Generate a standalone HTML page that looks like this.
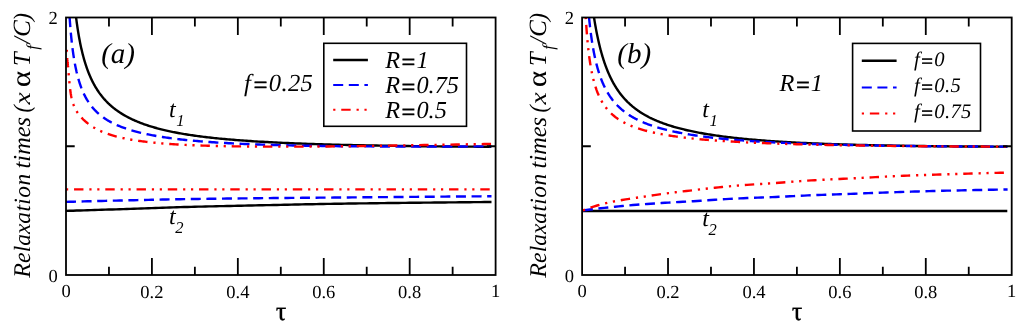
<!DOCTYPE html>
<html><head><meta charset="utf-8"><title>Relaxation times</title>
<style>
html,body{margin:0;padding:0;background:#fff;}
body{width:1024px;height:327px;overflow:hidden;}
svg{display:block;will-change:transform;}
text{font-family:"Liberation Serif",serif;fill:#000;text-rendering:geometricPrecision;}
.tk{font-size:18.5px;}
.it{font-style:italic;}
.yl{font-size:23.3px;}
.sym{font-style:normal;font-size:25px;}
.sub{font-size:16px;}
.sub2{font-size:16.5px;}
.t24{font-size:24px;}
.lab{font-size:29px;}
.tau{font-size:26.5px;stroke:#000;stroke-width:0.3px;}
</style></head><body>
<svg width="1024" height="327" viewBox="0 0 1024 327">
<rect x="0" y="0" width="1024" height="327" fill="#ffffff"/>
<defs>
<clipPath id="ca"><rect x="66" y="17.5" width="429.6" height="257.5"/></clipPath>
<clipPath id="cb"><rect x="582.1" y="17.5" width="429.6" height="257.5"/></clipPath>
</defs>
<g clip-path="url(#ca)">
<path d="M66 210.9 L69.58 210.79 L73.15 210.68 L76.73 210.57 L80.3 210.46 L83.88 210.35 L87.45 210.24 L91.03 210.13 L94.61 210.01 L98.18 209.9 L101.76 209.79 L105.33 209.67 L108.91 209.56 L112.48 209.44 L116.06 209.33 L119.63 209.21 L123.21 209.09 L126.79 208.97 L130.36 208.85 L133.94 208.72 L137.51 208.6 L141.09 208.47 L144.66 208.34 L148.24 208.21 L151.82 208.08 L155.39 207.96 L158.97 207.83 L162.54 207.71 L166.12 207.59 L169.69 207.47 L173.27 207.36 L176.84 207.25 L180.42 207.14 L184 207.05 L187.57 206.95 L191.15 206.85 L194.72 206.76 L198.3 206.67 L201.87 206.58 L205.45 206.5 L209.03 206.41 L212.6 206.33 L216.18 206.25 L219.75 206.17 L223.33 206.09 L226.9 206.01 L230.48 205.93 L234.05 205.85 L237.63 205.78 L241.21 205.7 L244.78 205.62 L248.36 205.55 L251.93 205.47 L255.51 205.4 L259.08 205.32 L262.66 205.24 L266.24 205.17 L269.81 205.09 L273.39 205.01 L276.96 204.93 L280.54 204.85 L284.11 204.78 L287.69 204.7 L291.26 204.62 L294.84 204.55 L298.42 204.47 L301.99 204.4 L305.57 204.32 L309.14 204.25 L312.72 204.18 L316.29 204.11 L319.87 204.05 L323.45 203.98 L327.02 203.92 L330.6 203.85 L334.17 203.79 L337.75 203.74 L341.32 203.68 L344.9 203.63 L348.47 203.57 L352.05 203.52 L355.63 203.47 L359.2 203.42 L362.78 203.37 L366.35 203.33 L369.93 203.28 L373.5 203.24 L377.08 203.19 L380.66 203.15 L384.23 203.1 L387.81 203.06 L391.38 203.02 L394.96 202.98 L398.53 202.94 L402.11 202.9 L405.68 202.86 L409.26 202.82 L412.84 202.78 L416.41 202.74 L419.99 202.7 L423.56 202.66 L427.14 202.62 L430.71 202.58 L434.29 202.55 L437.87 202.51 L441.44 202.47 L445.02 202.44 L448.59 202.4 L452.17 202.36 L455.74 202.33 L459.32 202.29 L462.89 202.26 L466.47 202.22 L470.05 202.19 L473.62 202.16 L477.2 202.13 L480.77 202.09 L484.35 202.06 L487.92 202.03 L491.5 202" fill="none" stroke="#000000" stroke-width="2.4"/>
<path d="M66 201.9 L69.58 201.8 L73.15 201.7 L76.73 201.6 L80.3 201.5 L83.88 201.41 L87.45 201.31 L91.03 201.22 L94.61 201.12 L98.18 201.03 L101.76 200.94 L105.33 200.85 L108.91 200.76 L112.48 200.68 L116.06 200.59 L119.63 200.51 L123.21 200.43 L126.79 200.34 L130.36 200.26 L133.94 200.18 L137.51 200.09 L141.09 200.01 L144.66 199.93 L148.24 199.85 L151.82 199.78 L155.39 199.7 L158.97 199.63 L162.54 199.55 L166.12 199.48 L169.69 199.41 L173.27 199.35 L176.84 199.29 L180.42 199.23 L184 199.17 L187.57 199.11 L191.15 199.06 L194.72 199 L198.3 198.95 L201.87 198.9 L205.45 198.85 L209.03 198.8 L212.6 198.75 L216.18 198.71 L219.75 198.66 L223.33 198.62 L226.9 198.57 L230.48 198.53 L234.05 198.49 L237.63 198.44 L241.21 198.4 L244.78 198.36 L248.36 198.32 L251.93 198.29 L255.51 198.25 L259.08 198.21 L262.66 198.17 L266.24 198.14 L269.81 198.1 L273.39 198.07 L276.96 198.03 L280.54 198 L284.11 197.97 L287.69 197.94 L291.26 197.91 L294.84 197.88 L298.42 197.85 L301.99 197.82 L305.57 197.79 L309.14 197.76 L312.72 197.73 L316.29 197.7 L319.87 197.67 L323.45 197.64 L327.02 197.61 L330.6 197.58 L334.17 197.55 L337.75 197.52 L341.32 197.49 L344.9 197.46 L348.47 197.43 L352.05 197.39 L355.63 197.36 L359.2 197.33 L362.78 197.3 L366.35 197.27 L369.93 197.23 L373.5 197.2 L377.08 197.17 L380.66 197.14 L384.23 197.11 L387.81 197.08 L391.38 197.04 L394.96 197.01 L398.53 196.98 L402.11 196.95 L405.68 196.92 L409.26 196.89 L412.84 196.86 L416.41 196.83 L419.99 196.8 L423.56 196.77 L427.14 196.74 L430.71 196.71 L434.29 196.68 L437.87 196.66 L441.44 196.63 L445.02 196.6 L448.59 196.57 L452.17 196.54 L455.74 196.52 L459.32 196.49 L462.89 196.46 L466.47 196.43 L470.05 196.41 L473.62 196.38 L477.2 196.35 L480.77 196.33 L484.35 196.3 L487.92 196.28 L491.5 196.25" fill="none" stroke="#0000ff" stroke-width="2.4" stroke-dasharray="10 5.6"/>
<path d="M66 189.4 L491.5 189.4" fill="none" stroke="#ff0000" stroke-width="2.4" stroke-dasharray="2.2 5.85 9.4 5.9 2.2 5.7"/>
<path d="M71.63 -38.13 L71.69 -36.92 L71.75 -35.72 L71.81 -34.53 L71.87 -33.34 L71.94 -32.16 L72 -30.99 L72.07 -29.82 L72.13 -28.66 L72.2 -27.51 L72.27 -26.37 L72.34 -25.23 L72.41 -24.1 L72.48 -22.98 L72.55 -21.86 L72.62 -20.75 L72.69 -19.65 L72.76 -18.56 L72.84 -17.47 L72.91 -16.38 L72.99 -15.31 L73.06 -14.24 L73.14 -13.18 L73.22 -12.12 L73.3 -11.07 L73.38 -10.03 L73.46 -8.99 L73.54 -7.96 L73.62 -6.94 L73.7 -5.92 L73.79 -4.91 L73.87 -3.9 L73.96 -2.9 L74.04 -1.91 L74.13 -0.92 L74.22 0.06 L74.31 1.04 L74.4 2 L74.49 2.97 L74.59 3.92 L74.68 4.88 L74.77 5.82 L74.87 6.76 L74.97 7.69 L75.06 8.62 L75.16 9.55 L75.26 10.46 L75.36 11.37 L75.47 12.28 L75.57 13.18 L75.67 14.07 L75.78 14.96 L75.88 15.85 L75.99 16.73 L76.1 17.6 L76.21 18.47 L76.32 19.33 L76.44 20.19 L76.55 21.04 L76.66 21.9 L76.78 22.75 L76.9 23.59 L77.02 24.43 L77.14 25.27 L77.26 26.11 L77.38 26.94 L77.5 27.77 L77.63 28.6 L77.76 29.42 L77.89 30.24 L78.01 31.05 L78.15 31.87 L78.28 32.67 L78.41 33.48 L78.55 34.28 L78.68 35.08 L78.82 35.88 L78.96 36.67 L79.1 37.46 L79.25 38.24 L79.39 39.02 L79.54 39.8 L79.68 40.58 L79.83 41.35 L79.98 42.12 L80.14 42.88 L80.29 43.65 L80.45 44.4 L80.6 45.16 L80.76 45.91 L80.92 46.66 L81.09 47.4 L81.25 48.14 L81.42 48.88 L81.59 49.62 L81.76 50.35 L81.93 51.07 L82.1 51.8 L82.28 52.52 L82.45 53.24 L82.63 53.95 L82.81 54.66 L83 55.37 L83.18 56.07 L83.37 56.78 L83.56 57.47 L83.75 58.17 L83.94 58.86 L84.14 59.54 L84.34 60.23 L84.54 60.91 L84.74 61.59 L84.94 62.26 L85.15 62.93 L85.36 63.6 L85.57 64.26 L85.78 64.92 L86 65.58 L86.22 66.23 L86.44 66.88 L86.66 67.53 L86.88 68.18 L87.11 68.82 L87.34 69.45 L87.58 70.09 L87.81 70.72 L88.05 71.35 L88.29 71.97 L88.53 72.59 L88.78 73.21 L89.03 73.82 L89.28 74.44 L89.53 75.04 L89.79 75.65 L90.05 76.25 L90.31 76.85 L90.57 77.44 L90.84 78.04 L91.11 78.62 L91.39 79.21 L91.66 79.79 L91.94 80.37 L92.22 80.95 L92.51 81.52 L92.8 82.09 L93.09 82.66 L93.39 83.22 L93.69 83.78 L93.99 84.34 L94.29 84.89 L94.6 85.44 L94.91 85.99 L95.23 86.53 L95.55 87.08 L95.87 87.61 L96.19 88.15 L96.52 88.68 L96.86 89.21 L97.19 89.74 L97.53 90.26 L97.88 90.78 L98.22 91.3 L98.57 91.81 L98.93 92.32 L99.29 92.83 L99.65 93.34 L100.02 93.84 L100.39 94.34 L100.76 94.83 L101.14 95.33 L101.52 95.82 L101.91 96.3 L102.3 96.79 L102.7 97.27 L103.1 97.75 L103.5 98.22 L103.91 98.7 L104.33 99.17 L104.74 99.63 L105.17 100.1 L105.59 100.56 L106.02 101.02 L106.46 101.47 L106.9 101.93 L107.35 102.38 L107.8 102.82 L108.25 103.27 L108.71 103.71 L109.18 104.15 L109.65 104.58 L110.13 105.02 L110.61 105.45 L111.09 105.88 L111.58 106.3 L112.08 106.72 L112.58 107.14 L113.09 107.56 L113.61 107.97 L114.12 108.39 L114.65 108.79 L115.18 109.2 L115.71 109.6 L116.26 110.01 L116.8 110.4 L117.36 110.8 L117.92 111.19 L118.48 111.58 L119.06 111.97 L119.63 112.36 L120.22 112.74 L120.81 113.12 L121.41 113.5 L122.01 113.87 L122.62 114.25 L123.24 114.62 L123.86 114.99 L124.49 115.35 L125.13 115.71 L125.78 116.07 L126.43 116.43 L127.09 116.79 L127.75 117.14 L128.42 117.49 L129.11 117.84 L129.79 118.19 L130.49 118.53 L131.19 118.87 L131.9 119.21 L132.62 119.55 L133.35 119.88 L134.08 120.21 L134.82 120.54 L135.57 120.87 L136.33 121.19 L137.1 121.52 L137.87 121.84 L138.66 122.15 L139.45 122.47 L140.25 122.78 L141.06 123.09 L141.88 123.4 L142.7 123.71 L143.54 124.01 L144.38 124.32 L145.24 124.62 L146.1 124.91 L146.98 125.21 L147.86 125.5 L148.75 125.79 L149.65 126.08 L150.56 126.37 L151.49 126.65 L152.42 126.93 L153.36 127.21 L154.31 127.49 L155.27 127.76 L156.25 128.03 L157.23 128.3 L158.23 128.57 L159.23 128.84 L160.25 129.1 L161.27 129.36 L162.31 129.62 L163.36 129.87 L164.42 130.12 L165.5 130.38 L166.58 130.62 L167.68 130.87 L168.79 131.11 L169.91 131.36 L171.04 131.59 L172.18 131.83 L173.34 132.07 L174.51 132.3 L175.69 132.53 L176.89 132.76 L178.1 132.98 L179.32 133.2 L180.55 133.43 L181.8 133.64 L183.07 133.86 L184.34 134.07 L185.63 134.29 L186.94 134.5 L188.25 134.7 L189.59 134.91 L190.93 135.11 L192.3 135.31 L193.67 135.51 L195.06 135.71 L196.47 135.9 L197.89 136.1 L199.33 136.29 L200.78 136.47 L202.25 136.66 L203.74 136.84 L205.24 137.03 L206.76 137.21 L208.29 137.38 L209.84 137.56 L211.41 137.73 L212.99 137.9 L214.6 138.07 L216.22 138.24 L217.85 138.41 L219.51 138.57 L221.18 138.73 L222.87 138.89 L224.58 139.05 L226.31 139.21 L228.06 139.36 L229.83 139.51 L231.61 139.66 L233.42 139.81 L235.24 139.96 L237.09 140.1 L238.95 140.25 L240.84 140.39 L242.74 140.53 L244.67 140.66 L246.62 140.8 L248.58 140.93 L250.57 141.07 L252.59 141.2 L254.62 141.33 L256.68 141.45 L258.75 141.58 L260.86 141.7 L262.98 141.82 L265.13 141.94 L267.3 142.06 L269.49 142.18 L271.71 142.29 L273.95 142.41 L276.22 142.52 L278.51 142.63 L280.83 142.74 L283.17 142.85 L285.53 142.95 L287.93 143.06 L290.35 143.16 L292.79 143.26 L295.26 143.36 L297.76 143.46 L300.29 143.56 L302.84 143.65 L305.42 143.74 L308.03 143.84 L310.67 143.93 L313.34 144.02 L316.03 144.1 L318.76 144.19 L321.51 144.27 L324.3 144.36 L327.12 144.44 L329.96 144.52 L332.84 144.6 L335.75 144.68 L338.69 144.75 L341.66 144.83 L344.66 144.9 L347.7 144.98 L350.77 145.05 L353.88 145.12 L357.01 145.18 L360.19 145.25 L363.39 145.32 L366.63 145.38 L369.91 145.44 L373.22 145.51 L376.57 145.57 L379.96 145.63 L383.38 145.68 L386.84 145.74 L390.34 145.8 L393.87 145.85 L397.45 145.9 L401.06 145.95 L404.71 146 L408.4 146.05 L412.13 146.1 L415.91 146.15 L419.72 146.19 L423.58 146.24 L427.47 146.28 L431.41 146.32 L435.4 146.36 L439.42 146.4 L443.49 146.44 L447.61 146.48 L451.77 146.51 L455.97 146.55 L460.22 146.58 L464.52 146.61 L468.86 146.64 L473.26 146.67 L477.69 146.7 L482.18 146.73 L486.72 146.75 L491.3 146.78" fill="none" stroke="#000000" stroke-width="2.4"/>
<path d="M68.06 -16.52 L68.09 -15.63 L68.11 -14.74 L68.14 -13.86 L68.17 -12.98 L68.2 -12.11 L68.23 -11.24 L68.26 -10.38 L68.29 -9.52 L68.32 -8.66 L68.35 -7.81 L68.38 -6.96 L68.42 -6.12 L68.45 -5.28 L68.48 -4.45 L68.51 -3.62 L68.55 -2.79 L68.58 -1.97 L68.62 -1.15 L68.65 -0.34 L68.69 0.47 L68.72 1.27 L68.76 2.07 L68.8 2.87 L68.84 3.66 L68.87 4.45 L68.91 5.24 L68.95 6.02 L68.99 6.79 L69.03 7.57 L69.07 8.34 L69.11 9.1 L69.16 9.86 L69.2 10.62 L69.24 11.37 L69.29 12.12 L69.33 12.87 L69.37 13.61 L69.42 14.35 L69.47 15.08 L69.51 15.81 L69.56 16.54 L69.61 17.26 L69.66 17.98 L69.7 18.7 L69.75 19.41 L69.81 20.12 L69.86 20.83 L69.91 21.54 L69.96 22.26 L70.01 22.97 L70.07 23.68 L70.12 24.39 L70.18 25.1 L70.23 25.81 L70.29 26.52 L70.35 27.24 L70.41 27.95 L70.47 28.66 L70.53 29.37 L70.59 30.08 L70.65 30.78 L70.71 31.49 L70.78 32.2 L70.84 32.91 L70.9 33.61 L70.97 34.32 L71.04 35.03 L71.11 35.73 L71.17 36.43 L71.24 37.14 L71.31 37.84 L71.39 38.54 L71.46 39.24 L71.53 39.94 L71.61 40.63 L71.68 41.33 L71.76 42.03 L71.84 42.72 L71.91 43.41 L71.99 44.1 L72.07 44.79 L72.16 45.48 L72.24 46.17 L72.32 46.86 L72.41 47.54 L72.49 48.23 L72.58 48.91 L72.67 49.59 L72.76 50.27 L72.85 50.94 L72.94 51.62 L73.04 52.29 L73.13 52.96 L73.23 53.63 L73.32 54.3 L73.42 54.97 L73.52 55.63 L73.62 56.3 L73.73 56.96 L73.83 57.62 L73.93 58.27 L74.04 58.93 L74.15 59.58 L74.26 60.23 L74.37 60.88 L74.48 61.53 L74.6 62.17 L74.71 62.82 L74.83 63.46 L74.95 64.1 L75.07 64.73 L75.19 65.37 L75.31 66 L75.44 66.63 L75.57 67.25 L75.7 67.88 L75.83 68.5 L75.96 69.12 L76.09 69.74 L76.23 70.36 L76.37 70.97 L76.5 71.58 L76.65 72.19 L76.79 72.8 L76.93 73.4 L77.08 74 L77.23 74.6 L77.38 75.2 L77.53 75.79 L77.69 76.38 L77.85 76.97 L78.01 77.55 L78.17 78.14 L78.33 78.72 L78.5 79.3 L78.67 79.87 L78.84 80.45 L79.01 81.02 L79.18 81.59 L79.36 82.15 L79.54 82.71 L79.72 83.27 L79.91 83.83 L80.09 84.39 L80.28 84.94 L80.48 85.49 L80.67 86.03 L80.87 86.58 L81.07 87.12 L81.27 87.66 L81.48 88.19 L81.68 88.73 L81.89 89.26 L82.11 89.78 L82.33 90.31 L82.54 90.83 L82.77 91.35 L82.99 91.87 L83.22 92.38 L83.45 92.89 L83.69 93.4 L83.93 93.91 L84.17 94.41 L84.41 94.91 L84.66 95.41 L84.91 95.9 L85.16 96.39 L85.42 96.88 L85.68 97.37 L85.95 97.85 L86.22 98.33 L86.49 98.81 L86.76 99.28 L87.04 99.76 L87.33 100.23 L87.61 100.69 L87.9 101.16 L88.2 101.62 L88.5 102.08 L88.8 102.53 L89.11 102.99 L89.42 103.44 L89.73 103.88 L90.05 104.33 L90.37 104.77 L90.7 105.21 L91.03 105.65 L91.37 106.08 L91.71 106.51 L92.06 106.94 L92.41 107.36 L92.76 107.79 L93.12 108.21 L93.49 108.63 L93.86 109.04 L94.23 109.45 L94.61 109.86 L95 110.27 L95.39 110.67 L95.78 111.07 L96.18 111.47 L96.59 111.87 L97 112.26 L97.42 112.65 L97.84 113.04 L98.27 113.43 L98.7 113.81 L99.14 114.19 L99.59 114.57 L100.04 114.94 L100.5 115.31 L100.96 115.68 L101.43 116.05 L101.91 116.42 L102.39 116.78 L102.88 117.14 L103.38 117.5 L103.88 117.85 L104.39 118.2 L104.91 118.55 L105.43 118.9 L105.96 119.24 L106.5 119.59 L107.04 119.93 L107.6 120.26 L108.15 120.6 L108.72 120.93 L109.3 121.26 L109.88 121.59 L110.47 121.91 L111.07 122.24 L111.67 122.56 L112.29 122.87 L112.91 123.19 L113.54 123.5 L114.18 123.81 L114.83 124.12 L115.49 124.43 L116.15 124.73 L116.83 125.03 L117.51 125.33 L118.2 125.63 L118.9 125.92 L119.62 126.22 L120.34 126.51 L121.07 126.8 L121.81 127.08 L122.56 127.36 L123.32 127.65 L124.09 127.93 L124.87 128.2 L125.66 128.48 L126.47 128.75 L127.28 129.02 L128.1 129.29 L128.94 129.55 L129.79 129.82 L130.64 130.08 L131.51 130.34 L132.4 130.6 L133.29 130.85 L134.19 131.11 L135.11 131.36 L136.04 131.61 L136.98 131.86 L137.94 132.1 L138.9 132.35 L139.89 132.59 L140.88 132.83 L141.89 133.06 L142.91 133.3 L143.94 133.53 L144.99 133.77 L146.05 134 L147.13 134.22 L148.22 134.45 L149.33 134.67 L150.45 134.9 L151.58 135.12 L152.73 135.34 L153.9 135.55 L155.08 135.77 L156.28 135.98 L157.5 136.19 L158.73 136.4 L159.97 136.6 L161.24 136.81 L162.52 137.01 L163.82 137.21 L165.13 137.41 L166.47 137.6 L167.82 137.8 L169.19 137.99 L170.57 138.18 L171.98 138.36 L173.41 138.55 L174.85 138.73 L176.32 138.91 L177.8 139.09 L179.3 139.26 L180.83 139.44 L182.37 139.61 L183.94 139.78 L185.52 139.94 L187.13 140.11 L188.76 140.27 L190.41 140.43 L192.08 140.59 L193.78 140.75 L195.5 140.9 L197.24 141.05 L199.01 141.2 L200.8 141.35 L202.61 141.49 L204.45 141.64 L206.31 141.78 L208.2 141.92 L210.11 142.05 L212.05 142.19 L214.01 142.32 L216 142.45 L218.02 142.58 L220.06 142.7 L222.14 142.82 L224.24 142.95 L226.36 143.07 L228.52 143.18 L230.71 143.3 L232.92 143.41 L235.17 143.52 L237.44 143.63 L239.75 143.74 L242.09 143.84 L244.46 143.94 L246.86 144.04 L249.29 144.14 L251.75 144.24 L254.25 144.33 L256.78 144.43 L259.35 144.52 L261.95 144.61 L264.59 144.69 L267.26 144.78 L269.96 144.86 L272.71 144.94 L275.49 145.02 L278.31 145.09 L281.16 145.17 L284.06 145.24 L286.99 145.31 L289.96 145.38 L292.97 145.45 L296.03 145.51 L299.12 145.57 L302.26 145.64 L305.43 145.69 L308.66 145.75 L311.92 145.81 L315.23 145.86 L318.58 145.91 L321.98 145.96 L325.42 146.01 L328.91 146.05 L332.45 146.1 L336.03 146.14 L339.66 146.18 L343.34 146.21 L347.07 146.25 L350.85 146.28 L354.68 146.31 L358.57 146.34 L362.5 146.37 L366.49 146.4 L370.53 146.42 L374.63 146.44 L378.78 146.46 L382.99 146.48 L387.25 146.49 L391.57 146.51 L395.95 146.52 L400.39 146.53 L404.89 146.53 L409.45 146.54 L414.06 146.54 L418.75 146.54 L423.49 146.54 L428.3 146.53 L433.17 146.53 L438.11 146.52 L443.12 146.51 L448.19 146.49 L453.33 146.48 L458.54 146.46 L463.82 146.44 L469.17 146.42 L474.59 146.39 L480.09 146.37 L485.66 146.34 L491.3 146.3" fill="none" stroke="#0000ff" stroke-width="2.4" stroke-dasharray="10 5.6" stroke-dashoffset="-2.5"/>
<path d="M66.45 49.5 L66.46 49.29 L66.47 49.1 L66.47 48.93 L66.48 48.77 L66.49 48.64 L66.5 48.53 L66.51 48.44 L66.52 48.36 L66.53 48.3 L66.53 48.26 L66.54 48.24 L66.55 48.23 L66.56 48.24 L66.57 48.26 L66.58 48.3 L66.59 48.36 L66.6 48.43 L66.61 48.51 L66.62 48.61 L66.63 48.72 L66.65 48.84 L66.66 48.98 L66.67 49.12 L66.68 49.28 L66.69 49.45 L66.7 49.63 L66.72 49.82 L66.73 50.02 L66.74 50.23 L66.75 50.45 L66.77 50.68 L66.78 50.91 L66.79 51.15 L66.81 51.4 L66.82 51.65 L66.83 51.91 L66.85 52.18 L66.86 52.45 L66.88 52.73 L66.89 53.01 L66.91 53.29 L66.93 53.58 L66.94 53.87 L66.96 54.16 L66.97 54.46 L66.99 54.76 L67.01 55.06 L67.03 55.36 L67.04 55.66 L67.06 55.96 L67.08 56.26 L67.1 56.56 L67.12 56.86 L67.14 57.16 L67.16 57.45 L67.18 57.75 L67.2 58.04 L67.22 58.33 L67.24 58.61 L67.26 58.9 L67.28 59.17 L67.3 59.45 L67.33 59.73 L67.35 60 L67.37 60.27 L67.4 60.54 L67.42 60.81 L67.45 61.08 L67.47 61.35 L67.5 61.62 L67.52 61.89 L67.55 62.16 L67.58 62.44 L67.6 62.72 L67.63 63 L67.66 63.28 L67.69 63.57 L67.72 63.86 L67.75 64.16 L67.78 64.46 L67.81 64.77 L67.84 65.09 L67.87 65.41 L67.9 65.73 L67.94 66.06 L67.97 66.4 L68 66.75 L68.04 67.11 L68.07 67.47 L68.11 67.84 L68.15 68.23 L68.18 68.62 L68.22 69.01 L68.26 69.42 L68.3 69.84 L68.34 70.27 L68.38 70.71 L68.42 71.16 L68.46 71.62 L68.51 72.1 L68.55 72.58 L68.59 73.08 L68.64 73.58 L68.68 74.1 L68.73 74.63 L68.78 75.17 L68.83 75.73 L68.87 76.29 L68.92 76.87 L68.98 77.45 L69.03 78.04 L69.08 78.64 L69.13 79.24 L69.19 79.85 L69.24 80.46 L69.3 81.07 L69.36 81.69 L69.41 82.31 L69.47 82.93 L69.53 83.54 L69.59 84.16 L69.66 84.78 L69.72 85.39 L69.78 86 L69.85 86.61 L69.92 87.21 L69.98 87.81 L70.05 88.4 L70.12 88.99 L70.19 89.57 L70.27 90.14 L70.34 90.71 L70.42 91.27 L70.49 91.81 L70.57 92.35 L70.65 92.88 L70.73 93.4 L70.81 93.92 L70.9 94.42 L70.98 94.91 L71.07 95.4 L71.15 95.88 L71.24 96.34 L71.33 96.81 L71.43 97.26 L71.52 97.71 L71.62 98.15 L71.71 98.58 L71.81 99.01 L71.91 99.43 L72.02 99.84 L72.12 100.25 L72.23 100.65 L72.33 101.05 L72.44 101.44 L72.55 101.83 L72.67 102.21 L72.78 102.59 L72.9 102.96 L73.02 103.33 L73.14 103.69 L73.27 104.05 L73.39 104.41 L73.52 104.76 L73.65 105.1 L73.78 105.45 L73.92 105.79 L74.05 106.13 L74.19 106.46 L74.34 106.79 L74.48 107.12 L74.63 107.44 L74.78 107.77 L74.93 108.09 L75.08 108.4 L75.24 108.72 L75.4 109.03 L75.56 109.34 L75.73 109.65 L75.9 109.96 L76.07 110.26 L76.24 110.57 L76.42 110.87 L76.6 111.17 L76.79 111.47 L76.97 111.77 L77.16 112.06 L77.36 112.36 L77.55 112.65 L77.75 112.95 L77.96 113.24 L78.16 113.53 L78.37 113.82 L78.59 114.11 L78.81 114.4 L79.03 114.69 L79.25 114.98 L79.48 115.27 L79.72 115.56 L79.95 115.85 L80.2 116.14 L80.44 116.42 L80.69 116.71 L80.95 117 L81.2 117.29 L81.47 117.58 L81.74 117.86 L82.01 118.15 L82.29 118.44 L82.57 118.73 L82.85 119.02 L83.15 119.31 L83.44 119.6 L83.75 119.89 L84.05 120.18 L84.37 120.47 L84.68 120.76 L85.01 121.05 L85.34 121.35 L85.67 121.64 L86.01 121.93 L86.36 122.23 L86.71 122.52 L87.07 122.82 L87.43 123.11 L87.81 123.41 L88.18 123.7 L88.57 123.99 L88.96 124.29 L89.36 124.58 L89.76 124.87 L90.17 125.17 L90.59 125.46 L91.02 125.75 L91.45 126.04 L91.89 126.33 L92.34 126.62 L92.8 126.91 L93.26 127.2 L93.73 127.48 L94.21 127.77 L94.7 128.05 L95.2 128.34 L95.7 128.62 L96.22 128.9 L96.74 129.18 L97.27 129.46 L97.82 129.73 L98.37 130.01 L98.93 130.28 L99.5 130.55 L100.08 130.82 L100.67 131.09 L101.27 131.36 L101.88 131.63 L102.5 131.89 L103.13 132.15 L103.78 132.41 L104.43 132.67 L105.1 132.93 L105.77 133.18 L106.46 133.44 L107.16 133.69 L107.88 133.94 L108.6 134.19 L109.34 134.43 L110.09 134.67 L110.85 134.92 L111.63 135.16 L112.42 135.39 L113.22 135.63 L114.04 135.86 L114.87 136.09 L115.72 136.32 L116.58 136.55 L117.46 136.78 L118.35 137 L119.25 137.22 L120.18 137.44 L121.12 137.66 L122.07 137.87 L123.04 138.08 L124.03 138.29 L125.03 138.5 L126.06 138.71 L127.1 138.91 L128.15 139.11 L129.23 139.31 L130.33 139.51 L131.44 139.71 L132.57 139.9 L133.73 140.09 L134.9 140.28 L136.09 140.46 L137.31 140.64 L138.54 140.82 L139.8 141 L141.08 141.18 L142.38 141.35 L143.7 141.52 L145.05 141.68 L146.41 141.85 L147.81 142.01 L149.22 142.17 L150.67 142.33 L152.13 142.48 L153.62 142.63 L155.14 142.78 L156.69 142.93 L158.26 143.07 L159.85 143.21 L161.48 143.35 L163.13 143.48 L164.82 143.61 L166.53 143.74 L168.27 143.87 L170.04 143.99 L171.84 144.11 L173.67 144.23 L175.54 144.35 L177.44 144.46 L179.37 144.57 L181.33 144.68 L183.33 144.78 L185.36 144.88 L187.43 144.98 L189.53 145.08 L191.67 145.17 L193.85 145.26 L196.06 145.35 L198.31 145.43 L200.6 145.52 L202.93 145.6 L205.31 145.67 L207.72 145.75 L210.17 145.82 L212.67 145.89 L215.21 145.95 L217.8 146.01 L220.42 146.07 L223.1 146.13 L225.82 146.19 L228.59 146.24 L231.4 146.29 L234.27 146.33 L237.18 146.37 L240.15 146.41 L243.16 146.45 L246.23 146.49 L249.35 146.52 L252.53 146.54 L255.76 146.57 L259.05 146.59 L262.39 146.61 L265.79 146.63 L269.25 146.64 L272.77 146.65 L276.35 146.66 L280 146.66 L283.7 146.66 L287.47 146.66 L291.31 146.65 L295.21 146.64 L299.18 146.63 L303.22 146.61 L307.33 146.59 L311.51 146.56 L315.76 146.54 L320.08 146.51 L324.49 146.47 L328.96 146.43 L333.52 146.39 L338.15 146.34 L342.86 146.29 L347.66 146.23 L352.54 146.17 L357.5 146.11 L362.55 146.05 L367.68 145.97 L372.91 145.9 L378.22 145.82 L383.63 145.74 L389.13 145.66 L394.73 145.57 L400.42 145.48 L406.22 145.38 L412.11 145.28 L418.1 145.18 L424.2 145.07 L430.4 144.96 L436.72 144.85 L443.14 144.74 L449.67 144.62 L456.31 144.5 L463.07 144.39 L469.95 144.28 L476.95 144.16 L484.06 144.06 L491.3 143.95" fill="none" stroke="#ff0000" stroke-width="2.4" stroke-dasharray="2.2 5.85 9.4 5.9 2.2 5.7" stroke-dashoffset="-3"/>
</g>
<g clip-path="url(#cb)">
<path d="M582.1 211 L1007.3 211" fill="none" stroke="#000000" stroke-width="2.4"/>
<path d="M582.9 210.4 L586.47 209.95 L590.04 209.52 L593.61 209.09 L597.18 208.67 L600.74 208.27 L604.31 207.87 L607.88 207.48 L611.45 207.11 L615.02 206.75 L618.59 206.39 L622.16 206.04 L625.73 205.7 L629.3 205.38 L632.86 205.06 L636.43 204.76 L640 204.48 L643.57 204.22 L647.14 203.96 L650.71 203.72 L654.28 203.48 L657.85 203.25 L661.42 203.03 L664.98 202.81 L668.55 202.6 L672.12 202.39 L675.69 202.19 L679.26 201.99 L682.83 201.8 L686.4 201.6 L689.97 201.41 L693.54 201.2 L697.11 200.99 L700.67 200.77 L704.24 200.54 L707.81 200.31 L711.38 200.07 L714.95 199.82 L718.52 199.58 L722.09 199.35 L725.66 199.13 L729.23 198.91 L732.79 198.71 L736.36 198.53 L739.93 198.37 L743.5 198.21 L747.07 198.06 L750.64 197.92 L754.21 197.78 L757.78 197.64 L761.35 197.51 L764.91 197.37 L768.48 197.23 L772.05 197.08 L775.62 196.93 L779.19 196.77 L782.76 196.6 L786.33 196.43 L789.9 196.26 L793.47 196.09 L797.03 195.92 L800.6 195.75 L804.17 195.58 L807.74 195.42 L811.31 195.27 L814.88 195.12 L818.45 194.99 L822.02 194.85 L825.59 194.72 L829.15 194.6 L832.72 194.47 L836.29 194.35 L839.86 194.23 L843.43 194.1 L847 193.98 L850.57 193.85 L854.14 193.72 L857.71 193.59 L861.27 193.45 L864.84 193.31 L868.41 193.17 L871.98 193.03 L875.55 192.89 L879.12 192.76 L882.69 192.62 L886.26 192.48 L889.83 192.35 L893.39 192.22 L896.96 192.1 L900.53 191.98 L904.1 191.87 L907.67 191.75 L911.24 191.64 L914.81 191.54 L918.38 191.43 L921.95 191.33 L925.52 191.22 L929.08 191.13 L932.65 191.03 L936.22 190.94 L939.79 190.84 L943.36 190.76 L946.93 190.67 L950.5 190.59 L954.07 190.51 L957.64 190.43 L961.2 190.35 L964.77 190.27 L968.34 190.2 L971.91 190.13 L975.48 190.05 L979.05 189.99 L982.62 189.92 L986.19 189.85 L989.76 189.79 L993.32 189.72 L996.89 189.67 L1000.46 189.61 L1004.03 189.55 L1007.6 189.5" fill="none" stroke="#0000ff" stroke-width="2.4" stroke-dasharray="10 5.6"/>
<path d="M582.9 210.4 L586.47 209.06 L590.03 207.79 L593.6 206.61 L597.17 205.51 L600.73 204.46 L604.3 203.51 L607.86 202.68 L611.43 201.93 L615 201.24 L618.56 200.6 L622.13 199.98 L625.7 199.39 L629.26 198.85 L632.83 198.33 L636.4 197.81 L639.96 197.28 L643.53 196.72 L647.09 196.15 L650.66 195.6 L654.23 195.07 L657.79 194.58 L661.36 194.1 L664.93 193.64 L668.49 193.18 L672.06 192.74 L675.63 192.3 L679.19 191.86 L682.76 191.42 L686.33 190.99 L689.89 190.57 L693.46 190.15 L697.02 189.75 L700.59 189.35 L704.16 188.95 L707.72 188.55 L711.29 188.15 L714.86 187.76 L718.42 187.38 L721.99 187.01 L725.56 186.66 L729.12 186.32 L732.69 186 L736.25 185.7 L739.82 185.42 L743.39 185.15 L746.95 184.9 L750.52 184.65 L754.09 184.42 L757.65 184.18 L761.22 183.95 L764.79 183.72 L768.35 183.49 L771.92 183.24 L775.48 182.99 L779.05 182.73 L782.62 182.47 L786.18 182.2 L789.75 181.92 L793.32 181.65 L796.88 181.39 L800.45 181.13 L804.02 180.87 L807.58 180.63 L811.15 180.41 L814.72 180.2 L818.28 180.01 L821.85 179.82 L825.41 179.64 L828.98 179.47 L832.55 179.31 L836.11 179.14 L839.68 178.98 L843.25 178.82 L846.81 178.65 L850.38 178.48 L853.95 178.3 L857.51 178.12 L861.08 177.93 L864.64 177.74 L868.21 177.55 L871.78 177.35 L875.34 177.16 L878.91 176.97 L882.48 176.78 L886.04 176.59 L889.61 176.41 L893.18 176.24 L896.74 176.07 L900.31 175.91 L903.87 175.76 L907.44 175.62 L911.01 175.49 L914.57 175.36 L918.14 175.23 L921.71 175.1 L925.27 174.98 L928.84 174.87 L932.41 174.75 L935.97 174.64 L939.54 174.52 L943.11 174.41 L946.67 174.3 L950.24 174.19 L953.8 174.08 L957.37 173.97 L960.94 173.86 L964.5 173.76 L968.07 173.65 L971.64 173.55 L975.2 173.44 L978.77 173.34 L982.34 173.24 L985.9 173.14 L989.47 173.05 L993.03 172.95 L996.6 172.86 L1000.17 172.77 L1003.73 172.68 L1007.3 172.6" fill="none" stroke="#ff0000" stroke-width="2.4" stroke-dasharray="2.2 5.85 9.4 5.9 2.2 5.7"/>
<path d="M588.91 -32.78 L588.98 -31.7 L589.05 -30.63 L589.12 -29.57 L589.19 -28.51 L589.27 -27.46 L589.34 -26.42 L589.42 -25.38 L589.49 -24.34 L589.57 -23.32 L589.65 -22.29 L589.73 -21.28 L589.81 -20.27 L589.89 -19.26 L589.97 -18.26 L590.05 -17.27 L590.13 -16.28 L590.22 -15.3 L590.3 -14.32 L590.39 -13.35 L590.47 -12.38 L590.56 -11.42 L590.65 -10.46 L590.74 -9.51 L590.83 -8.57 L590.92 -7.63 L591.01 -6.7 L591.1 -5.77 L591.2 -4.84 L591.29 -3.92 L591.39 -3.01 L591.48 -2.1 L591.58 -1.2 L591.68 -0.3 L591.78 0.59 L591.88 1.48 L591.98 2.36 L592.09 3.24 L592.19 4.12 L592.29 4.98 L592.4 5.85 L592.51 6.71 L592.62 7.56 L592.73 8.41 L592.84 9.25 L592.95 10.09 L593.06 10.93 L593.18 11.76 L593.29 12.58 L593.41 13.41 L593.53 14.22 L593.64 15.03 L593.77 15.84 L593.89 16.64 L594.01 17.44 L594.13 18.24 L594.26 19.03 L594.39 19.81 L594.51 20.59 L594.64 21.37 L594.77 22.15 L594.91 22.93 L595.04 23.7 L595.17 24.48 L595.31 25.25 L595.45 26.03 L595.59 26.8 L595.73 27.58 L595.87 28.35 L596.01 29.12 L596.16 29.89 L596.3 30.66 L596.45 31.43 L596.6 32.2 L596.75 32.96 L596.91 33.73 L597.06 34.49 L597.22 35.25 L597.37 36.01 L597.53 36.77 L597.69 37.53 L597.85 38.29 L598.02 39.04 L598.18 39.79 L598.35 40.54 L598.52 41.29 L598.69 42.04 L598.87 42.78 L599.04 43.53 L599.22 44.27 L599.4 45.01 L599.58 45.75 L599.76 46.48 L599.94 47.22 L600.13 47.95 L600.32 48.68 L600.5 49.41 L600.7 50.13 L600.89 50.85 L601.09 51.57 L601.28 52.29 L601.48 53.01 L601.69 53.72 L601.89 54.43 L602.1 55.14 L602.3 55.85 L602.51 56.55 L602.73 57.25 L602.94 57.95 L603.16 58.65 L603.38 59.34 L603.6 60.03 L603.82 60.72 L604.05 61.4 L604.28 62.08 L604.51 62.76 L604.74 63.44 L604.98 64.12 L605.22 64.79 L605.46 65.46 L605.7 66.12 L605.95 66.78 L606.2 67.44 L606.45 68.1 L606.7 68.76 L606.96 69.41 L607.22 70.05 L607.48 70.7 L607.74 71.34 L608.01 71.98 L608.28 72.62 L608.55 73.25 L608.83 73.88 L609.11 74.51 L609.39 75.13 L609.67 75.75 L609.96 76.37 L610.25 76.99 L610.54 77.6 L610.84 78.21 L611.14 78.81 L611.44 79.41 L611.75 80.01 L612.06 80.61 L612.37 81.2 L612.68 81.79 L613 82.38 L613.32 82.96 L613.65 83.54 L613.98 84.12 L614.31 84.69 L614.64 85.26 L614.98 85.83 L615.33 86.39 L615.67 86.95 L616.02 87.51 L616.38 88.07 L616.73 88.62 L617.09 89.17 L617.46 89.71 L617.83 90.25 L618.2 90.79 L618.57 91.33 L618.95 91.86 L619.34 92.39 L619.73 92.91 L620.12 93.43 L620.51 93.95 L620.91 94.47 L621.32 94.98 L621.73 95.49 L622.14 96 L622.56 96.5 L622.98 97 L623.4 97.49 L623.84 97.99 L624.27 98.48 L624.71 98.97 L625.15 99.45 L625.6 99.93 L626.05 100.41 L626.51 100.88 L626.98 101.35 L627.44 101.82 L627.92 102.28 L628.39 102.75 L628.87 103.2 L629.36 103.66 L629.85 104.11 L630.35 104.56 L630.85 105.01 L631.36 105.45 L631.88 105.89 L632.39 106.33 L632.92 106.76 L633.45 107.19 L633.98 107.62 L634.52 108.04 L635.07 108.47 L635.62 108.88 L636.18 109.3 L636.74 109.71 L637.31 110.12 L637.89 110.53 L638.47 110.93 L639.05 111.33 L639.65 111.73 L640.25 112.13 L640.85 112.52 L641.47 112.91 L642.08 113.29 L642.71 113.68 L643.34 114.06 L643.98 114.43 L644.62 114.81 L645.27 115.18 L645.93 115.55 L646.6 115.92 L647.27 116.28 L647.95 116.64 L648.63 117 L649.33 117.35 L650.03 117.71 L650.73 118.05 L651.45 118.4 L652.17 118.75 L652.9 119.09 L653.64 119.43 L654.38 119.76 L655.14 120.1 L655.9 120.43 L656.67 120.76 L657.44 121.08 L658.23 121.4 L659.02 121.72 L659.82 122.04 L660.63 122.36 L661.45 122.67 L662.28 122.98 L663.11 123.29 L663.96 123.59 L664.81 123.9 L665.67 124.2 L666.54 124.5 L667.42 124.79 L668.31 125.08 L669.21 125.37 L670.12 125.66 L671.03 125.95 L671.96 126.23 L672.9 126.51 L673.84 126.79 L674.8 127.07 L675.76 127.34 L676.74 127.62 L677.73 127.88 L678.72 128.15 L679.73 128.42 L680.74 128.68 L681.77 128.94 L682.81 129.2 L683.86 129.46 L684.92 129.71 L685.99 129.96 L687.07 130.21 L688.17 130.46 L689.27 130.7 L690.39 130.95 L691.52 131.19 L692.66 131.43 L693.81 131.67 L694.97 131.9 L696.15 132.13 L697.34 132.36 L698.54 132.59 L699.75 132.82 L700.97 133.05 L702.21 133.27 L703.46 133.49 L704.73 133.71 L706.01 133.93 L707.3 134.14 L708.6 134.35 L709.92 134.56 L711.25 134.77 L712.6 134.98 L713.96 135.19 L715.33 135.39 L716.72 135.59 L718.12 135.79 L719.54 135.99 L720.97 136.18 L722.42 136.37 L723.88 136.57 L725.35 136.75 L726.85 136.94 L728.35 137.13 L729.88 137.31 L731.42 137.49 L732.97 137.67 L734.54 137.85 L736.13 138.02 L737.74 138.19 L739.36 138.36 L741 138.53 L742.65 138.7 L744.32 138.87 L746.01 139.03 L747.72 139.19 L749.45 139.35 L751.19 139.51 L752.95 139.66 L754.73 139.81 L756.53 139.97 L758.35 140.11 L760.18 140.26 L762.04 140.41 L763.91 140.55 L765.81 140.69 L767.72 140.83 L769.66 140.97 L771.61 141.11 L773.58 141.24 L775.58 141.38 L777.59 141.51 L779.63 141.64 L781.69 141.76 L783.77 141.89 L785.87 142.01 L787.99 142.13 L790.14 142.25 L792.3 142.37 L794.49 142.49 L796.71 142.6 L798.94 142.71 L801.2 142.83 L803.48 142.94 L805.79 143.04 L808.12 143.15 L810.47 143.25 L812.85 143.36 L815.26 143.46 L817.69 143.56 L820.14 143.65 L822.62 143.75 L825.13 143.84 L827.66 143.94 L830.22 144.03 L832.8 144.12 L835.41 144.21 L838.05 144.29 L840.72 144.38 L843.41 144.46 L846.13 144.54 L848.88 144.62 L851.66 144.7 L854.47 144.77 L857.31 144.85 L860.18 144.92 L863.07 145 L866 145.07 L868.96 145.13 L871.95 145.2 L874.97 145.27 L878.02 145.33 L881.1 145.4 L884.21 145.46 L887.36 145.52 L890.54 145.57 L893.75 145.63 L897 145.69 L900.28 145.74 L903.6 145.79 L906.95 145.84 L910.33 145.89 L913.75 145.94 L917.2 145.99 L920.69 146.03 L924.22 146.07 L927.79 146.12 L931.39 146.16 L935.03 146.2 L938.7 146.23 L942.42 146.27 L946.17 146.3 L949.96 146.34 L953.8 146.37 L957.67 146.4 L961.58 146.43 L965.53 146.45 L969.53 146.48 L973.56 146.5 L977.64 146.53 L981.76 146.55 L985.93 146.57 L990.13 146.58 L994.38 146.6 L998.68 146.62 L1003.02 146.63 L1007.4 146.64" fill="none" stroke="#000000" stroke-width="2.4"/>
<path d="M585.94 -31.1 L585.99 -29.98 L586.03 -28.87 L586.08 -27.77 L586.13 -26.68 L586.18 -25.58 L586.22 -24.5 L586.27 -23.42 L586.32 -22.35 L586.37 -21.29 L586.42 -20.23 L586.47 -19.18 L586.53 -18.13 L586.58 -17.09 L586.63 -16.06 L586.69 -15.03 L586.74 -14.01 L586.79 -12.99 L586.85 -11.98 L586.91 -10.98 L586.96 -9.98 L587.02 -8.99 L587.08 -8 L587.14 -7.02 L587.2 -6.04 L587.26 -5.08 L587.32 -4.11 L587.38 -3.15 L587.45 -2.2 L587.51 -1.26 L587.57 -0.31 L587.64 0.62 L587.7 1.55 L587.77 2.48 L587.84 3.4 L587.91 4.31 L587.97 5.22 L588.04 6.12 L588.11 7.02 L588.19 7.91 L588.26 8.8 L588.33 9.68 L588.41 10.56 L588.48 11.43 L588.56 12.3 L588.63 13.16 L588.71 14.01 L588.79 14.86 L588.87 15.71 L588.95 16.55 L589.03 17.39 L589.11 18.22 L589.19 19.05 L589.28 19.88 L589.36 20.7 L589.45 21.52 L589.54 22.34 L589.63 23.16 L589.72 23.98 L589.81 24.79 L589.9 25.6 L589.99 26.41 L590.08 27.22 L590.18 28.03 L590.27 28.83 L590.37 29.63 L590.47 30.43 L590.57 31.22 L590.67 32.02 L590.77 32.81 L590.87 33.59 L590.98 34.38 L591.08 35.16 L591.19 35.94 L591.3 36.72 L591.41 37.5 L591.52 38.27 L591.63 39.04 L591.74 39.81 L591.86 40.57 L591.97 41.33 L592.09 42.09 L592.21 42.85 L592.33 43.6 L592.45 44.35 L592.57 45.1 L592.7 45.85 L592.82 46.59 L592.95 47.33 L593.08 48.06 L593.21 48.8 L593.34 49.53 L593.47 50.26 L593.61 50.98 L593.74 51.7 L593.88 52.42 L594.02 53.14 L594.16 53.85 L594.31 54.56 L594.45 55.27 L594.6 55.97 L594.75 56.67 L594.9 57.37 L595.05 58.06 L595.2 58.75 L595.36 59.44 L595.51 60.13 L595.67 60.81 L595.84 61.49 L596 62.16 L596.16 62.84 L596.33 63.5 L596.5 64.17 L596.67 64.83 L596.84 65.49 L597.02 66.15 L597.19 66.8 L597.37 67.45 L597.55 68.1 L597.74 68.75 L597.92 69.39 L598.11 70.02 L598.3 70.66 L598.49 71.29 L598.69 71.92 L598.89 72.54 L599.08 73.16 L599.29 73.78 L599.49 74.4 L599.7 75.01 L599.91 75.62 L600.12 76.22 L600.33 76.82 L600.55 77.42 L600.77 78.02 L600.99 78.61 L601.21 79.2 L601.44 79.79 L601.67 80.37 L601.9 80.95 L602.13 81.52 L602.37 82.1 L602.61 82.67 L602.86 83.23 L603.1 83.8 L603.35 84.36 L603.6 84.91 L603.86 85.47 L604.12 86.02 L604.38 86.57 L604.64 87.11 L604.91 87.65 L605.18 88.19 L605.45 88.72 L605.73 89.25 L606.01 89.78 L606.3 90.31 L606.58 90.83 L606.87 91.35 L607.17 91.86 L607.47 92.38 L607.77 92.89 L608.07 93.39 L608.38 93.89 L608.69 94.39 L609.01 94.89 L609.33 95.39 L609.65 95.88 L609.98 96.36 L610.31 96.85 L610.64 97.33 L610.98 97.81 L611.32 98.28 L611.67 98.75 L612.02 99.22 L612.38 99.69 L612.73 100.15 L613.1 100.61 L613.47 101.07 L613.84 101.52 L614.21 101.98 L614.6 102.42 L614.98 102.87 L615.37 103.31 L615.77 103.75 L616.17 104.19 L616.57 104.62 L616.98 105.05 L617.39 105.48 L617.81 105.9 L618.24 106.32 L618.66 106.74 L619.1 107.16 L619.54 107.57 L619.98 107.98 L620.43 108.39 L620.89 108.8 L621.35 109.2 L621.81 109.6 L622.28 109.99 L622.76 110.39 L623.24 110.78 L623.73 111.17 L624.23 111.55 L624.73 111.93 L625.23 112.31 L625.74 112.69 L626.26 113.07 L626.78 113.44 L627.31 113.81 L627.85 114.17 L628.39 114.54 L628.94 114.9 L629.5 115.26 L630.06 115.61 L630.63 115.97 L631.21 116.32 L631.79 116.67 L632.38 117.01 L632.98 117.36 L633.58 117.7 L634.19 118.03 L634.81 118.37 L635.43 118.7 L636.07 119.03 L636.71 119.36 L637.36 119.69 L638.01 120.01 L638.67 120.33 L639.35 120.65 L640.03 120.97 L640.71 121.28 L641.41 121.59 L642.11 121.9 L642.82 122.21 L643.54 122.51 L644.27 122.82 L645.01 123.12 L645.76 123.41 L646.51 123.71 L647.28 124 L648.05 124.29 L648.83 124.58 L649.63 124.87 L650.43 125.15 L651.24 125.43 L652.06 125.71 L652.89 125.99 L653.73 126.26 L654.58 126.54 L655.44 126.81 L656.31 127.08 L657.19 127.34 L658.08 127.61 L658.98 127.87 L659.89 128.13 L660.82 128.39 L661.75 128.65 L662.7 128.9 L663.65 129.15 L664.62 129.4 L665.6 129.65 L666.59 129.9 L667.59 130.14 L668.61 130.38 L669.64 130.62 L670.67 130.86 L671.73 131.1 L672.79 131.33 L673.86 131.57 L674.95 131.8 L676.06 132.03 L677.17 132.25 L678.3 132.48 L679.44 132.7 L680.6 132.92 L681.76 133.14 L682.95 133.36 L684.14 133.58 L685.35 133.79 L686.58 134.01 L687.82 134.22 L689.07 134.42 L690.34 134.63 L691.63 134.84 L692.93 135.04 L694.24 135.24 L695.57 135.44 L696.92 135.64 L698.28 135.83 L699.66 136.03 L701.06 136.22 L702.47 136.41 L703.9 136.6 L705.34 136.79 L706.8 136.97 L708.28 137.15 L709.78 137.33 L711.3 137.51 L712.83 137.69 L714.38 137.86 L715.95 138.04 L717.54 138.21 L719.15 138.38 L720.77 138.54 L722.42 138.71 L724.08 138.87 L725.77 139.03 L727.47 139.19 L729.2 139.35 L730.94 139.51 L732.71 139.66 L734.5 139.81 L736.31 139.96 L738.14 140.11 L739.99 140.26 L741.86 140.4 L743.76 140.55 L745.67 140.69 L747.62 140.83 L749.58 140.96 L751.57 141.1 L753.58 141.23 L755.61 141.37 L757.67 141.5 L759.76 141.63 L761.86 141.75 L764 141.88 L766.16 142 L768.34 142.12 L770.55 142.24 L772.79 142.36 L775.05 142.48 L777.34 142.59 L779.65 142.7 L782 142.81 L784.37 142.92 L786.77 143.03 L789.2 143.14 L791.66 143.24 L794.14 143.34 L796.66 143.45 L799.21 143.55 L801.78 143.64 L804.39 143.74 L807.03 143.83 L809.7 143.93 L812.4 144.02 L815.13 144.11 L817.9 144.19 L820.69 144.28 L823.53 144.37 L826.39 144.45 L829.29 144.53 L832.22 144.61 L835.19 144.69 L838.19 144.77 L841.23 144.84 L844.31 144.92 L847.42 144.99 L850.57 145.06 L853.75 145.13 L856.98 145.2 L860.24 145.26 L863.54 145.33 L866.88 145.39 L870.26 145.45 L873.68 145.51 L877.14 145.57 L880.64 145.63 L884.18 145.68 L887.77 145.74 L891.39 145.79 L895.06 145.84 L898.78 145.89 L902.54 145.94 L906.34 145.98 L910.19 146.03 L914.08 146.07 L918.02 146.12 L922.01 146.16 L926.04 146.2 L930.12 146.23 L934.25 146.27 L938.43 146.3 L942.66 146.34 L946.94 146.37 L951.26 146.4 L955.65 146.43 L960.08 146.46 L964.56 146.48 L969.1 146.51 L973.69 146.53 L978.34 146.55 L983.04 146.57 L987.8 146.59 L992.62 146.61 L997.49 146.62 L1002.42 146.63 L1007.4 146.65" fill="none" stroke="#0000ff" stroke-width="2.4" stroke-dasharray="10 5.6" stroke-dashoffset="-1.7"/>
<path d="M584.1 -27.21 L584.13 -26.08 L584.16 -24.97 L584.19 -23.86 L584.21 -22.75 L584.24 -21.66 L584.27 -20.57 L584.3 -19.49 L584.33 -18.41 L584.36 -17.34 L584.39 -16.28 L584.42 -15.22 L584.45 -14.17 L584.49 -13.12 L584.52 -12.09 L584.55 -11.05 L584.58 -10.03 L584.62 -9.01 L584.65 -8 L584.69 -6.99 L584.72 -5.99 L584.76 -4.99 L584.79 -4 L584.83 -3.02 L584.86 -2.04 L584.9 -1.07 L584.94 -0.11 L584.98 0.85 L585.02 1.81 L585.06 2.75 L585.1 3.7 L585.14 4.63 L585.18 5.56 L585.22 6.49 L585.26 7.41 L585.31 8.32 L585.35 9.23 L585.39 10.14 L585.44 11.03 L585.48 11.93 L585.53 12.81 L585.57 13.7 L585.62 14.57 L585.67 15.44 L585.72 16.31 L585.77 17.17 L585.82 18.03 L585.87 18.88 L585.92 19.74 L585.97 20.59 L586.02 21.44 L586.07 22.29 L586.13 23.14 L586.18 23.98 L586.24 24.82 L586.29 25.66 L586.35 26.5 L586.41 27.33 L586.46 28.17 L586.52 29 L586.58 29.83 L586.64 30.65 L586.71 31.47 L586.77 32.3 L586.83 33.11 L586.9 33.93 L586.96 34.74 L587.03 35.55 L587.09 36.36 L587.16 37.16 L587.23 37.96 L587.3 38.76 L587.37 39.56 L587.44 40.35 L587.51 41.14 L587.58 41.93 L587.66 42.71 L587.73 43.5 L587.81 44.27 L587.89 45.05 L587.97 45.82 L588.04 46.59 L588.12 47.36 L588.21 48.12 L588.29 48.88 L588.37 49.64 L588.46 50.39 L588.54 51.14 L588.63 51.89 L588.72 52.63 L588.81 53.37 L588.9 54.11 L588.99 54.84 L589.08 55.57 L589.18 56.3 L589.27 57.02 L589.37 57.75 L589.47 58.46 L589.57 59.18 L589.67 59.89 L589.77 60.59 L589.88 61.3 L589.98 62 L590.09 62.69 L590.2 63.39 L590.31 64.08 L590.42 64.76 L590.53 65.45 L590.64 66.12 L590.76 66.8 L590.87 67.47 L590.99 68.14 L591.11 68.81 L591.24 69.47 L591.36 70.13 L591.48 70.78 L591.61 71.43 L591.74 72.08 L591.87 72.72 L592 73.36 L592.14 74 L592.27 74.63 L592.41 75.26 L592.55 75.89 L592.69 76.51 L592.83 77.13 L592.98 77.74 L593.13 78.35 L593.27 78.96 L593.43 79.57 L593.58 80.17 L593.73 80.76 L593.89 81.36 L594.05 81.95 L594.21 82.53 L594.38 83.12 L594.54 83.7 L594.71 84.27 L594.88 84.85 L595.05 85.41 L595.23 85.98 L595.41 86.54 L595.59 87.1 L595.77 87.65 L595.95 88.2 L596.14 88.75 L596.33 89.3 L596.52 89.84 L596.72 90.37 L596.91 90.91 L597.11 91.44 L597.32 91.96 L597.52 92.49 L597.73 93.01 L597.94 93.52 L598.16 94.04 L598.37 94.55 L598.59 95.05 L598.82 95.55 L599.04 96.05 L599.27 96.55 L599.51 97.04 L599.74 97.53 L599.98 98.02 L600.22 98.5 L600.47 98.98 L600.71 99.45 L600.97 99.92 L601.22 100.39 L601.48 100.86 L601.74 101.32 L602.01 101.78 L602.28 102.24 L602.55 102.69 L602.82 103.14 L603.11 103.58 L603.39 104.03 L603.68 104.47 L603.97 104.9 L604.26 105.34 L604.56 105.77 L604.87 106.19 L605.18 106.62 L605.49 107.04 L605.8 107.45 L606.12 107.87 L606.45 108.28 L606.78 108.69 L607.11 109.09 L607.45 109.5 L607.79 109.9 L608.14 110.29 L608.49 110.69 L608.85 111.08 L609.21 111.46 L609.58 111.85 L609.95 112.23 L610.32 112.61 L610.71 112.98 L611.09 113.36 L611.48 113.73 L611.88 114.09 L612.28 114.46 L612.69 114.82 L613.11 115.18 L613.53 115.53 L613.95 115.88 L614.38 116.23 L614.82 116.58 L615.26 116.93 L615.71 117.27 L616.16 117.61 L616.62 117.94 L617.09 118.28 L617.56 118.61 L618.04 118.94 L618.53 119.26 L619.02 119.59 L619.52 119.91 L620.03 120.22 L620.54 120.54 L621.06 120.85 L621.58 121.16 L622.12 121.47 L622.66 121.78 L623.21 122.08 L623.76 122.38 L624.33 122.68 L624.9 122.97 L625.48 123.27 L626.06 123.56 L626.66 123.84 L627.26 124.13 L627.87 124.41 L628.49 124.7 L629.12 124.97 L629.75 125.25 L630.4 125.52 L631.05 125.8 L631.71 126.07 L632.38 126.33 L633.06 126.6 L633.75 126.86 L634.45 127.12 L635.16 127.38 L635.87 127.64 L636.6 127.89 L637.34 128.14 L638.08 128.39 L638.84 128.64 L639.61 128.88 L640.39 129.13 L641.17 129.37 L641.97 129.61 L642.78 129.85 L643.6 130.08 L644.43 130.31 L645.28 130.55 L646.13 130.77 L647 131 L647.87 131.23 L648.76 131.45 L649.66 131.67 L650.58 131.89 L651.5 132.11 L652.44 132.32 L653.39 132.54 L654.36 132.75 L655.33 132.96 L656.32 133.17 L657.33 133.37 L658.34 133.58 L659.37 133.78 L660.42 133.98 L661.48 134.18 L662.55 134.38 L663.64 134.57 L664.74 134.77 L665.86 134.96 L666.99 135.15 L668.14 135.34 L669.3 135.52 L670.48 135.71 L671.67 135.89 L672.89 136.07 L674.11 136.25 L675.36 136.43 L676.62 136.6 L677.9 136.78 L679.19 136.95 L680.5 137.12 L681.83 137.29 L683.18 137.45 L684.55 137.62 L685.93 137.78 L687.34 137.94 L688.76 138.1 L690.2 138.26 L691.66 138.42 L693.14 138.57 L694.65 138.72 L696.17 138.87 L697.71 139.02 L699.27 139.17 L700.86 139.32 L702.46 139.46 L704.09 139.6 L705.74 139.75 L707.41 139.89 L709.1 140.02 L710.82 140.16 L712.56 140.29 L714.32 140.43 L716.11 140.56 L717.92 140.69 L719.76 140.82 L721.62 140.94 L723.51 141.07 L725.42 141.19 L727.36 141.31 L729.32 141.43 L731.31 141.55 L733.33 141.67 L735.37 141.79 L737.44 141.9 L739.54 142.01 L741.67 142.12 L743.83 142.23 L746.02 142.34 L748.23 142.45 L750.48 142.55 L752.76 142.66 L755.06 142.76 L757.4 142.86 L759.77 142.96 L762.17 143.06 L764.61 143.16 L767.08 143.25 L769.58 143.35 L772.11 143.44 L774.68 143.53 L777.28 143.62 L779.92 143.71 L782.6 143.8 L785.31 143.88 L788.05 143.97 L790.84 144.05 L793.66 144.13 L796.52 144.21 L799.42 144.29 L802.36 144.37 L805.33 144.44 L808.35 144.52 L811.41 144.59 L814.51 144.67 L817.65 144.74 L820.84 144.81 L824.07 144.88 L827.34 144.94 L830.65 145.01 L834.01 145.07 L837.42 145.14 L840.87 145.2 L844.37 145.26 L847.91 145.32 L851.51 145.38 L855.15 145.44 L858.84 145.49 L862.58 145.55 L866.37 145.6 L870.22 145.66 L874.11 145.71 L878.06 145.76 L882.06 145.81 L886.12 145.86 L890.23 145.9 L894.39 145.95 L898.62 145.99 L902.89 146.03 L907.23 146.08 L911.63 146.12 L916.08 146.16 L920.6 146.2 L925.17 146.23 L929.81 146.27 L934.51 146.3 L939.28 146.34 L944.11 146.37 L949 146.4 L953.96 146.43 L958.99 146.46 L964.08 146.49 L969.25 146.51 L974.48 146.54 L979.79 146.56 L985.16 146.59 L990.61 146.61 L996.13 146.63 L1001.73 146.65 L1007.4 146.67" fill="none" stroke="#ff0000" stroke-width="2.4" stroke-dasharray="2.2 5.85 9.4 5.9 2.2 5.7" stroke-dashoffset="-12.9"/>
</g>
<rect x="66" y="17.5" width="429.6" height="257.5" fill="none" stroke="#000" stroke-width="1.8"/>
<path d="M108.96 17.5 v8.9 M108.96 275 v-8.2 M151.92 17.5 v17.5 M151.92 275 v-17 M194.88 17.5 v8.9 M194.88 275 v-8.2 M237.84 17.5 v17.5 M237.84 275 v-17 M280.8 17.5 v8.9 M280.8 275 v-8.2 M323.76 17.5 v17.5 M323.76 275 v-17 M366.72 17.5 v8.9 M366.72 275 v-8.2 M409.68 17.5 v17.5 M409.68 275 v-17 M452.64 17.5 v8.9 M452.64 275 v-8.2 M66 146.25 h8.7 M495.6 146.25 h-8.7" stroke="#000" stroke-width="1.8" fill="none"/>
<text x="66" y="296.8" text-anchor="middle" class="tk">0</text>
<text x="151.92" y="298" text-anchor="middle" class="tk">0.2</text>
<text x="237.84" y="298" text-anchor="middle" class="tk">0.4</text>
<text x="323.76" y="298" text-anchor="middle" class="tk">0.6</text>
<text x="409.68" y="298" text-anchor="middle" class="tk">0.8</text>
<text x="495.6" y="296.8" text-anchor="middle" class="tk">1</text>
<text x="57.8" y="23.9" text-anchor="end" class="tk">2</text>
<text x="57.8" y="282.0" text-anchor="end" class="tk">0</text>
<text transform="translate(30.2 277.7) rotate(-90)" class="it" style="font-size:24.0px;">Re</text>
<text transform="translate(30.2 252.2) rotate(-90)" class="it" style="font-size:23.3px;">laxa</text>
<text transform="translate(30.2 211.6) rotate(-90)" class="it" style="font-size:23.3px;letter-spacing:0.5px">tion</text>
<text transform="translate(30.2 168.4) rotate(-90)" class="it" style="font-size:24.35px;">times</text>
<text transform="translate(30.2 112.4) rotate(-90) scale(0.9 1)" class="it" style="font-size:24.0px;">(</text>
<text transform="translate(30.2 104.4) rotate(-90) scale(1.18 1)" class="it" style="font-size:23.3px;">x</text>
<text transform="translate(30.2 87.2) rotate(-90) scale(1.12 0.97)" class="it" style="font-size:28.0px;font-style:normal">α</text>
<text transform="translate(30.2 66) rotate(-90)" class="it" style="font-size:24.5px;">T</text>
<text transform="translate(37.8 49.8) rotate(-90)" class="it" style="font-size:16.5px;">f</text>
<text transform="translate(30.2 43.8) rotate(-90)" class="it" style="font-size:24.0px;">/</text>
<text transform="translate(30.2 36.8) rotate(-90)" class="it" style="font-size:24.8px;">C</text>
<text transform="translate(30.2 21) rotate(-90)" class="it" style="font-size:24.0px;">)</text>
<text x="281" y="320.3" text-anchor="middle" class="tau">&#964;</text>
<rect x="582.1" y="17.5" width="429.6" height="257.5" fill="none" stroke="#000" stroke-width="1.8"/>
<path d="M625.06 17.5 v8.9 M625.06 275 v-8.2 M668.02 17.5 v17.5 M668.02 275 v-17 M710.98 17.5 v8.9 M710.98 275 v-8.2 M753.94 17.5 v17.5 M753.94 275 v-17 M796.9 17.5 v8.9 M796.9 275 v-8.2 M839.86 17.5 v17.5 M839.86 275 v-17 M882.82 17.5 v8.9 M882.82 275 v-8.2 M925.78 17.5 v17.5 M925.78 275 v-17 M968.74 17.5 v8.9 M968.74 275 v-8.2 M582.1 146.25 h8.7 M1011.7 146.25 h-8.7" stroke="#000" stroke-width="1.8" fill="none"/>
<text x="582.1" y="296.8" text-anchor="middle" class="tk">0</text>
<text x="668.02" y="298" text-anchor="middle" class="tk">0.2</text>
<text x="753.94" y="298" text-anchor="middle" class="tk">0.4</text>
<text x="839.86" y="298" text-anchor="middle" class="tk">0.6</text>
<text x="925.78" y="298" text-anchor="middle" class="tk">0.8</text>
<text x="1011.7" y="296.8" text-anchor="middle" class="tk">1</text>
<text x="573.9" y="23.9" text-anchor="end" class="tk">2</text>
<text x="573.9" y="282.0" text-anchor="end" class="tk">0</text>
<text transform="translate(546.3 277.7) rotate(-90)" class="it" style="font-size:24.0px;">Re</text>
<text transform="translate(546.3 252.2) rotate(-90)" class="it" style="font-size:23.3px;">laxa</text>
<text transform="translate(546.3 211.6) rotate(-90)" class="it" style="font-size:23.3px;letter-spacing:0.5px">tion</text>
<text transform="translate(546.3 168.4) rotate(-90)" class="it" style="font-size:24.35px;">times</text>
<text transform="translate(546.3 112.4) rotate(-90) scale(0.9 1)" class="it" style="font-size:24.0px;">(</text>
<text transform="translate(546.3 104.4) rotate(-90) scale(1.18 1)" class="it" style="font-size:23.3px;">x</text>
<text transform="translate(546.3 87.2) rotate(-90) scale(1.12 0.97)" class="it" style="font-size:28.0px;font-style:normal">α</text>
<text transform="translate(546.3 66) rotate(-90)" class="it" style="font-size:24.5px;">T</text>
<text transform="translate(553.9 49.8) rotate(-90)" class="it" style="font-size:16.5px;">f</text>
<text transform="translate(546.3 43.8) rotate(-90)" class="it" style="font-size:24.0px;">/</text>
<text transform="translate(546.3 36.8) rotate(-90)" class="it" style="font-size:24.8px;">C</text>
<text transform="translate(546.3 21) rotate(-90)" class="it" style="font-size:24.0px;">)</text>
<text x="797.1" y="320.3" text-anchor="middle" class="tau">&#964;</text>
<text x="101.2" y="63.4" class="it lab">(a)</text>
<text x="617.3" y="63.4" class="it lab">(b)</text>
<text x="169" y="117" class="it t24">t<tspan class="sub2" dy="9.3" dx="0.6">1</tspan></text>
<text x="169" y="224.3" class="it t24">t<tspan class="sub2" dy="8.5" dx="-0.3">2</tspan></text>
<text x="702.2" y="117" class="it t24">t<tspan class="sub2" dy="9.2" dx="0.6">1</tspan></text>
<text x="702.2" y="226.2" class="it t24">t<tspan class="sub2" dy="8.5" dx="-0.3">2</tspan></text>
<text x="243.9" y="91" class="it" style="font-size:24.6px;letter-spacing:0.3px">f<tspan dx="0.9" dy="2.2" style="stroke:#000;stroke-width:0.55px">=</tspan><tspan dy="-2.2">0.25</tspan></text>
<text x="779.6" y="90.8" class="it" style="font-size:24.3px">R<tspan dy="2.2" style="stroke:#000;stroke-width:0.55px">=</tspan><tspan dy="-2.2">1</tspan></text>
<rect x="323.8" y="43.3" width="142.7" height="83" fill="#fff" stroke="#000" stroke-width="1.6"/>
<path d="M333.2 59.9 H367.9" stroke="#000000" stroke-width="2.5" fill="none"/>
<text x="385.2" y="67.9" class="it" style="font-size:24.3px">R<tspan dy="2.2" style="stroke:#000;stroke-width:0.55px">=</tspan><tspan dy="-2.2">1</tspan></text>
<path d="M333.2 85.1 H367.9" stroke="#0000ff" stroke-width="2.0" fill="none" stroke-dasharray="10 5.6"/>
<text x="385.2" y="92.8" class="it" style="font-size:24.3px">R<tspan dy="2.2" style="stroke:#000;stroke-width:0.55px">=</tspan><tspan dy="-2.2">0.75</tspan></text>
<path d="M333.2 109.8 H367.9" stroke="#ff0000" stroke-width="2.0" fill="none" stroke-dasharray="2.2 5.85 9.4 5.9 2.2 5.7"/>
<text x="385.2" y="117.7" class="it" style="font-size:24.3px">R<tspan dy="2.2" style="stroke:#000;stroke-width:0.55px">=</tspan><tspan dy="-2.2">0.5</tspan></text>
<rect x="852.6" y="43.4" width="127.9" height="87.6" fill="#fff" stroke="#000" stroke-width="1.6"/>
<path d="M861.8 60.7 H896.6" stroke="#000000" stroke-width="2.5" fill="none"/>
<text x="914" y="66.2" class="it" style="font-size:20.6px;letter-spacing:0.35px">f<tspan dy="1.9" style="stroke:#000;stroke-width:0.55px">=</tspan><tspan dy="-1.9">0</tspan></text>
<path d="M861.8 87.4 H896.6" stroke="#0000ff" stroke-width="2.0" fill="none" stroke-dasharray="10 5.6"/>
<text x="914" y="91.8" class="it" style="font-size:20.6px;letter-spacing:0.35px">f<tspan dy="1.9" style="stroke:#000;stroke-width:0.55px">=</tspan><tspan dy="-1.9">0.5</tspan></text>
<path d="M861.8 113.4 H896.6" stroke="#ff0000" stroke-width="2.0" fill="none" stroke-dasharray="2.2 5.85 9.4 5.9 2.2 5.7"/>
<text x="914" y="118" class="it" style="font-size:20.6px;letter-spacing:0.35px">f<tspan dy="1.9" style="stroke:#000;stroke-width:0.55px">=</tspan><tspan dy="-1.9">0.75</tspan></text>
</svg></body></html>
